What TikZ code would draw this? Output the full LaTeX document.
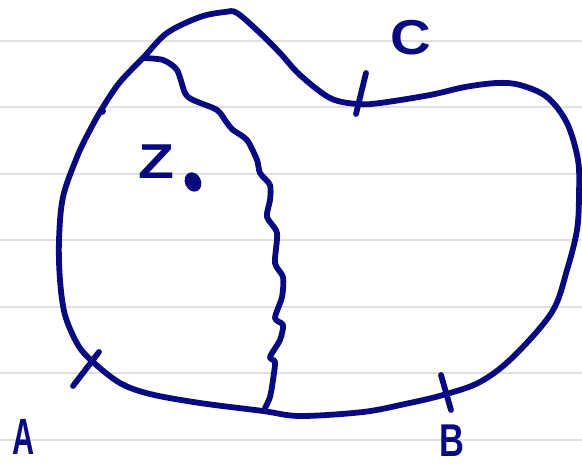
\documentclass[tikz,border=0pt]{standalone}
\usepackage{fontspec}
\setmainfont{Liberation Sans}
\definecolor{ink}{RGB}{10,10,128}
\definecolor{rule}{RGB}{224,224,224}
\tikzset{
  pen/.style={draw=ink, line width=5.8pt, line cap=round, line join=round},
  ruleline/.style={draw=rule, line width=2pt},
  tickmark/.style={pen},
  letter/.style={text=ink, inner sep=0pt, font=\bfseries}
}
\begin{document}
\begin{tikzpicture}[x=1pt,y=-1pt]
\useasboundingbox[fill=white] (0,0) rectangle (582,469);
% ruled paper
\foreach \yy in {41,107,174,240,307,373,440}
  \draw[ruleline] (0,\yy) -- (582,\yy);
% outer region
\draw[pen] plot[smooth cycle, tension=0.55] coordinates {
 (143,58) (120,82) (103,107) (90,130) (77,157) (63,197) (59,240) (60,280)
 (65,315) (78,345) (93,362) (120,383) (150,394) (200,403) (263,411) (300,416)
 (363,412) (405,404) (443,395) (480,382) (513,357) (552,312) (567,270)
 (577,230) (579,195) (578,160) (567,123) (547,97) (520,85) (497,83) (465,87)
 (430,95) (380,103) (357,104) (330,98) (300,75) (280,53) (260,33) (237,13)
 (225,12) (200,17) (167,33)};
% inner wavy boundary
\coordinate (top) at (143,58);
\coordinate (bot) at (265,408);
\draw[pen] plot[smooth, tension=0.45] coordinates {
 (143,58) (163,60) (177,70) (185,93) (193,100) (217,110) (227,123) (233,130)
 (247,140) (257,160) (260,173) (270,185) (270,200) (267,217) (277,233)
 (275,263) (283,277) (282,297) (275,318) (283,325) (280,340) (270,357)
 (275,362) (273,380) (270,397) (265,408)};
% small blob on the boundary
\fill[ink] (102,111) circle (4);
% ticks
\coordinate (cA1) at (99,352); \coordinate (cA2) at (73,386);
\coordinate (cB1) at (441,375); \coordinate (cB2) at (451,410);
\coordinate (cC1) at (366,73); \coordinate (cC2) at (356,114);
\draw[tickmark] (cA1) -- (cA2);
\draw[tickmark] (cB1) -- (cB2);
\draw[tickmark] (cC1) -- (cC2);
% point z
\fill[ink, rotate around={25:(193,182)}] (193,182) ellipse (8 and 10);
% labels
\node[letter, xscale=0.6] (A) at (24,437) {\fontsize{51}{51}\selectfont A};
\node[letter, xscale=0.75] (B) at (452,441) {\fontsize{46}{46}\selectfont B};
\node[letter, xscale=1.15] (C) at (411,38) {\fontsize{49}{49}\selectfont C};
\node[letter, xscale=1.2] (Z) at (156,162) {\fontsize{49}{49}\selectfont Z};
\end{tikzpicture}
\end{document}
